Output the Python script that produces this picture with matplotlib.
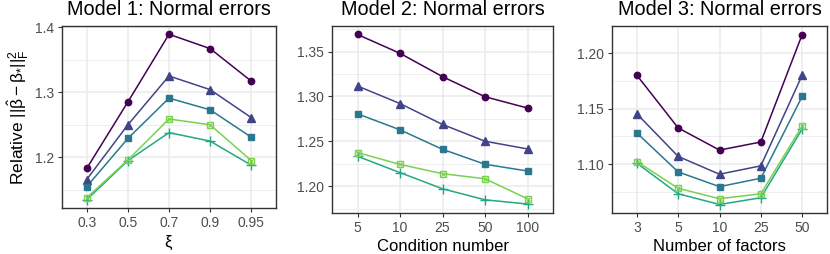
import numpy as np
import matplotlib
matplotlib.use("Agg")
import matplotlib.pyplot as plt
from matplotlib.ticker import MultipleLocator, FormatStrFormatter

plt.rcParams['font.family'] = ['Liberation Sans', 'DejaVu Sans']
plt.rcParams['mathtext.fontset'] = 'custom'
plt.rcParams['mathtext.rm'] = 'Liberation Sans'
plt.rcParams['mathtext.it'] = 'Liberation Sans'
plt.rcParams['mathtext.bf'] = 'Liberation Sans:bold'

# viridis(5, end=0.8), one colour/shape per method
colors = ['#440154', '#414487', '#2A788E', '#22A884', '#7AD151']
shapes = ['o', '^', 's', '+', 'sx']

# Model 1: xi
xi_labels = ['0.3', '0.5', '0.7', '0.9', '0.95']
m1 = [
    [1.183, 1.285, 1.389, 1.367, 1.317],
    [1.166, 1.250, 1.325, 1.304, 1.261],
    [1.155, 1.229, 1.291, 1.273, 1.231],
    [1.135, 1.195, 1.238, 1.225, 1.188],
    [1.138, 1.196, 1.259, 1.250, 1.195],
]

# Model 2: condition number
cond_labels = ['5', '10', '25', '50', '100']
m2 = [
    [1.369, 1.348, 1.322, 1.2996, 1.287],
    [1.3116, 1.292, 1.2687, 1.250, 1.2414],
    [1.2806, 1.2627, 1.241, 1.2243, 1.2168],
    [1.2332, 1.215, 1.197, 1.1847, 1.180],
    [1.2373, 1.2242, 1.2138, 1.2082, 1.1858],
]

# Model 3: number of factors
fac_labels = ['3', '5', '10', '25', '50']
m3 = [
    [1.1803, 1.1327, 1.1127, 1.120, 1.217],
    [1.1455, 1.107, 1.0909, 1.0985, 1.1803],
    [1.1282, 1.093, 1.0797, 1.0873, 1.1612],
    [1.1009, 1.0733, 1.0636, 1.0697, 1.1318],
    [1.1024, 1.0782, 1.0688, 1.0733, 1.1345],
]

W, H = 830, 254
fig = plt.figure(figsize=(W / 100, H / 100), dpi=100)

def box(l, r, t, b):
    return [l / W, (H - b) / H, (r - l) / W, (b - t) / H]

panels = [
    (box(62, 276, 26, 208), m1, xi_labels, r'$\xi$', 'Model 1: Normal errors', 0.1, '%.1f'),
    (box(332, 553, 26, 212.5), m2, cond_labels, 'Condition number', 'Model 2: Normal errors', 0.05, '%.2f'),
    (box(612, 827, 26, 213), m3, fac_labels, 'Number of factors', 'Model 3: Normal errors', 0.05, '%.2f'),
]

for k, (pos, data, labels, xlab, title, step, fmt) in enumerate(panels):
    ax = fig.add_axes(pos)
    x = np.arange(len(labels))
    for vals, c, s in zip(data, colors, shapes):
        ax.plot(x, vals, '-', color=c, lw=1.1, zorder=3)
        if s == 'sx':
            ax.plot(x, vals, 's', ms=5.0, mfc='none', mec=c, mew=1.0, zorder=4)
            ax.plot(x, vals, 'x', ms=3.5, color=c, mew=0.8, zorder=4)
        elif s == '+':
            ax.plot(x, vals, '+', ms=6.5, color=c, mew=1.0, zorder=4)
        elif s == '^':
            ax.plot(x, vals, '^', ms=5.2, color=c, zorder=4)
        elif s == 's':
            ax.plot(x, vals, 's', ms=4.3, color=c, zorder=4)
        else:
            ax.plot(x, vals, 'o', ms=4.6, color=c, zorder=4)

    allv = np.array(data)
    lo, hi = allv.min(), allv.max()
    pad = 0.05 * (hi - lo)
    ax.set_ylim(lo - pad, hi + pad)
    ax.set_xlim(-0.6, len(labels) - 0.4)
    ax.set_xticks(x)
    ax.set_xticklabels(labels)
    ax.yaxis.set_major_locator(MultipleLocator(step))
    ax.yaxis.set_minor_locator(MultipleLocator(step / 2))
    ax.yaxis.set_major_formatter(FormatStrFormatter(fmt))

    ax.set_axisbelow(True)
    ax.grid(True, which='major', color='#EBEBEB', lw=1.1)
    ax.grid(True, which='minor', axis='y', color='#EBEBEB', lw=0.6)
    for sp in ax.spines.values():
        sp.set_color('#333333')
        sp.set_linewidth(1.0)
    ax.tick_params(which='major', length=3, width=0.8, color='#333333',
                   labelsize=10, labelcolor='#4D4D4D', pad=2.8)
    ax.tick_params(which='minor', length=0)

    ax.set_xlabel(xlab, fontsize=12, labelpad=3)
    ax.set_title(title, fontsize=14.3, pad=8)
    if k == 0:
        ax.set_ylabel(r'Relative $||\hat{\beta}-\beta_{*}||_F^2$', fontsize=12.5, labelpad=3)

fig.savefig('out.png', dpi=100)
